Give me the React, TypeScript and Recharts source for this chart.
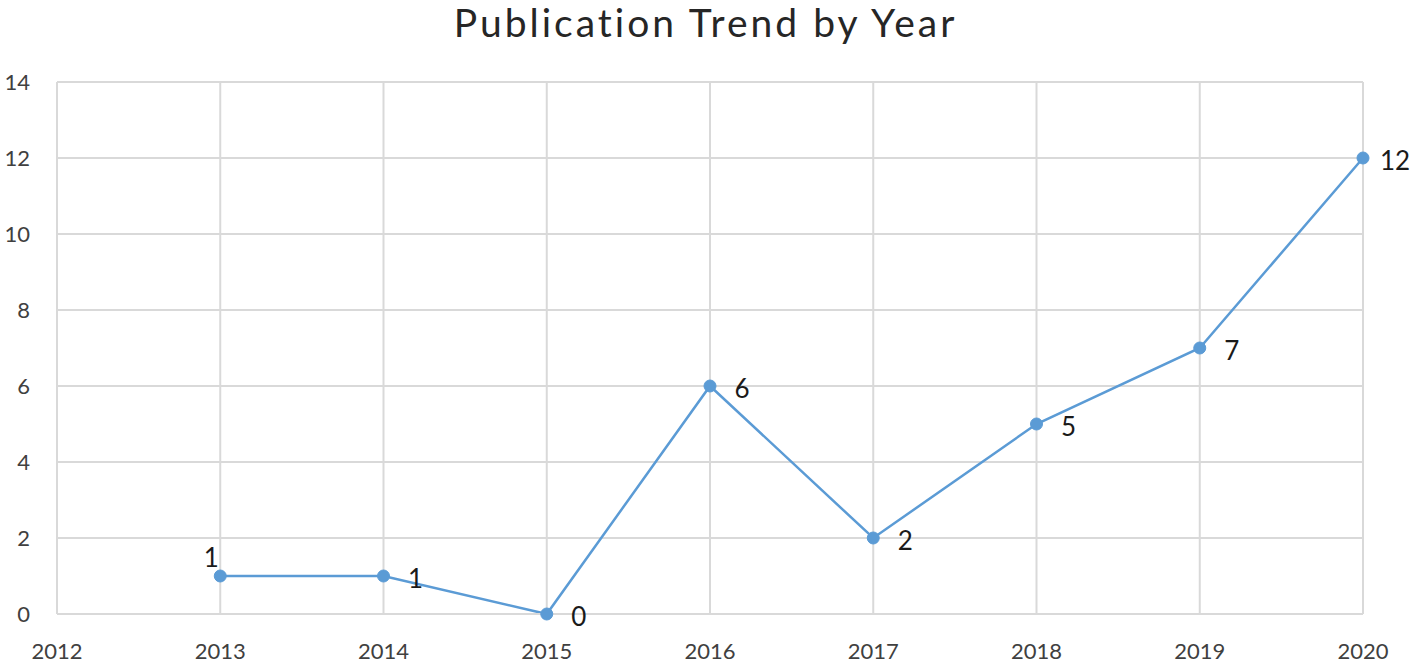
import React from "react";
import { LineChart, Line, XAxis, YAxis, CartesianGrid, LabelList } from "recharts";

const years = [2013, 2014, 2015, 2016, 2017, 2018, 2019, 2020];
const publications = [1, 1, 0, 6, 2, 5, 7, 12];
const xTicks = [2012, 2013, 2014, 2015, 2016, 2017, 2018, 2019, 2020];
const yTicks = [0, 2, 4, 6, 8, 10, 12, 14];
const title = "Publication Trend by Year";

const data = years.map((y, i) => ({ year: y, count: publications[i] }));

const FONT = "Lato, 'Open Sans', sans-serif";

const renderLabel = (props: any) => {
  const { x, y, value, index } = props;
  const above = index === 0;
  return (
    <text
      x={above ? x - 9 : x + 32}
      y={above ? y - 9 : y + 12}
      fontSize={26}
      fontFamily={FONT}
      fill="#1a1a1a"
      textAnchor="middle"
    >
      {value}
    </text>
  );
};

export default function App() {
  return (
    <div style={{ position: "absolute", left: 0, top: 0, width: 1417, height: 665, background: "#fff" }}>
      <div
        style={{
          position: "absolute",
          left: 0,
          width: 1417,
          top: -1,
          textAlign: "center",
          fontFamily: FONT,
          fontSize: 39,
          letterSpacing: 3,
          color: "#262626",
          paddingRight: 6,
          boxSizing: "border-box",
          whiteSpace: "nowrap",
        }}
      >
        {title}
      </div>
      <LineChart
        width={1417}
        height={665}
        data={data}
        margin={{ top: 82, right: 54, bottom: 0, left: 0 }}
      >
        <CartesianGrid stroke="#d9d9d9" strokeWidth={2} verticalValues={xTicks} horizontalValues={yTicks} />
        <XAxis
          dataKey="year"
          type="number"
          domain={[2012, 2020]}
          ticks={xTicks}
          interval={0}
          height={51}
          tickSize={0}
          tickMargin={29}
          axisLine={{ stroke: "#d9d9d9", strokeWidth: 2 }}
          tickLine={false}
          tick={{ fontSize: 22, fontFamily: FONT, fill: "#404040" }}
        />
        <YAxis
          type="number"
          domain={[0, 14]}
          ticks={yTicks}
          interval={0}
          width={57}
          tickSize={0}
          tickMargin={27}
          axisLine={{ stroke: "#d9d9d9", strokeWidth: 2 }}
          tickLine={false}
          tick={{ fontSize: 22, fontFamily: FONT, fill: "#404040" }}
        />
        <Line
          type="linear"
          dataKey="count"
          stroke="#5b9bd5"
          strokeWidth={2.5}
          dot={{ r: 6, fill: "#5b9bd5", stroke: "#5b9bd5", strokeWidth: 1 }}
          isAnimationActive={false}
        >
          <LabelList dataKey="count" content={renderLabel} />
        </Line>
      </LineChart>
    </div>
  );
}
